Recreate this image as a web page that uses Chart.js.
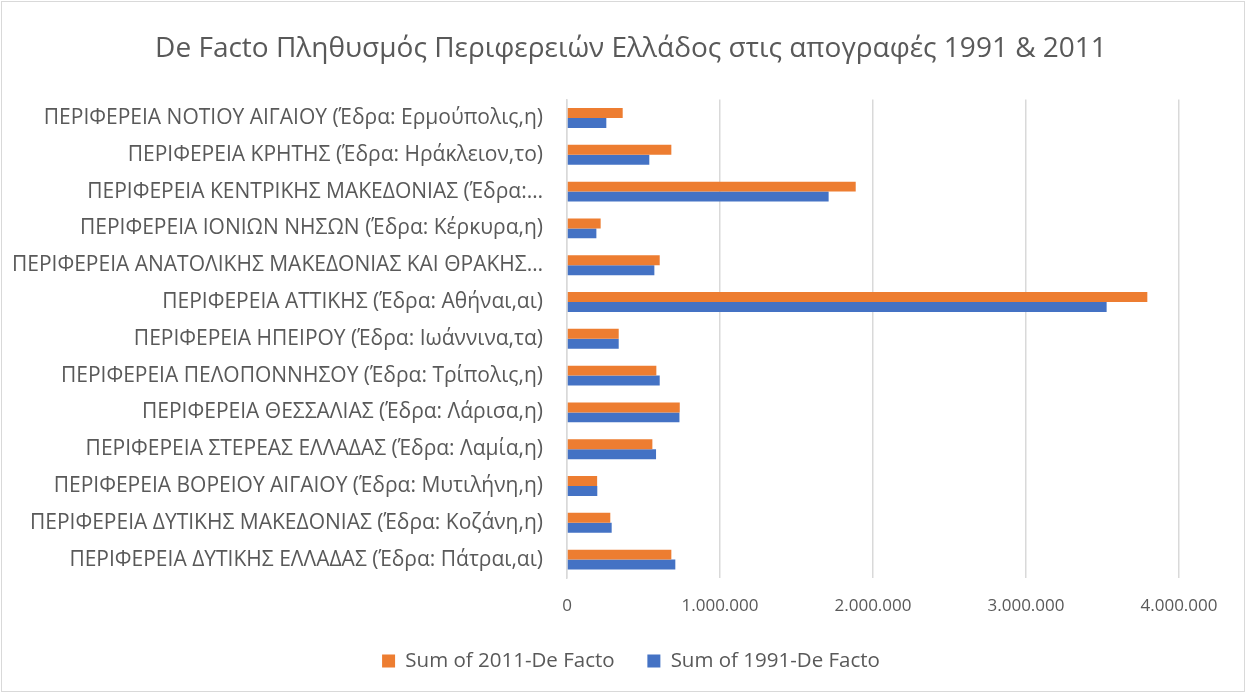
<!DOCTYPE html>
<html>
<head>
<meta charset="utf-8">
<script src="https://cdn.jsdelivr.net/npm/chart.js@4"></script>
<style>
  html, body { margin: 0; padding: 0; background: #fff; }
  #wrap { width: 1246px; height: 693px; position: relative; }
</style>
</head>
<body>
<div id="wrap"><canvas id="c" width="1246" height="693"></canvas></div>
<script>
const categories = [
  "ΠΕΡΙΦΕΡΕΙΑ ΝΟΤΙΟΥ ΑΙΓΑΙΟΥ (Έδρα: Ερμούπολις,η)",
  "ΠΕΡΙΦΕΡΕΙΑ ΚΡΗΤΗΣ (Έδρα: Ηράκλειον,το)",
  "ΠΕΡΙΦΕΡΕΙΑ ΚΕΝΤΡΙΚΗΣ ΜΑΚΕΔΟΝΙΑΣ (Έδρα:…",
  "ΠΕΡΙΦΕΡΕΙΑ ΙΟΝΙΩΝ ΝΗΣΩΝ (Έδρα: Κέρκυρα,η)",
  "ΠΕΡΙΦΕΡΕΙΑ ΑΝΑΤΟΛΙΚΗΣ ΜΑΚΕΔΟΝΙΑΣ ΚΑΙ ΘΡΑΚΗΣ…",
  "ΠΕΡΙΦΕΡΕΙΑ ΑΤΤΙΚΗΣ (Έδρα: Αθήναι,αι)",
  "ΠΕΡΙΦΕΡΕΙΑ ΗΠΕΙΡΟΥ (Έδρα: Ιωάννινα,τα)",
  "ΠΕΡΙΦΕΡΕΙΑ ΠΕΛΟΠΟΝΝΗΣΟΥ (Έδρα: Τρίπολις,η)",
  "ΠΕΡΙΦΕΡΕΙΑ ΘΕΣΣΑΛΙΑΣ (Έδρα: Λάρισα,η)",
  "ΠΕΡΙΦΕΡΕΙΑ ΣΤΕΡΕΑΣ ΕΛΛΑΔΑΣ (Έδρα: Λαμία,η)",
  "ΠΕΡΙΦΕΡΕΙΑ ΒΟΡΕΙΟΥ ΑΙΓΑΙΟΥ (Έδρα: Μυτιλήνη,η)",
  "ΠΕΡΙΦΕΡΕΙΑ ΔΥΤΙΚΗΣ ΜΑΚΕΔΟΝΙΑΣ (Έδρα: Κοζάνη,η)",
  "ΠΕΡΙΦΕΡΕΙΑ ΔΥΤΙΚΗΣ ΕΛΛΑΔΑΣ (Έδρα: Πάτραι,αι)"
];
const series2011 = [364000, 682000, 1887000, 220000, 606000, 3793000, 338000, 584000, 737000, 558000, 197000, 283000, 682000];
const series1991 = [257000, 538000, 1710000, 192000, 571000, 3527000, 338000, 606000, 735000, 582000, 198000, 292000, 708000];
const seriesNames = ["Sum of 2011-De Facto", "Sum of 1991-De Facto"];
const xTicks = [0, 1000000, 2000000, 3000000, 4000000];
const titleText = "De Facto Πληθυσμός Περιφερειών Ελλάδος στις απογραφές 1991 & 2011";

const FONT = "'Open Sans', 'Noto Sans', sans-serif";
const TXT = "#595959";

function fmt(v) {
  return String(Math.round(v)).replace(/\B(?=(\d{3})+(?!\d))/g, ".");
}

const borderPlugin = {
  id: 'outerBorder',
  beforeDraw(chart) {
    const ctx = chart.ctx;
    ctx.save();
    ctx.fillStyle = '#fff';
    ctx.fillRect(0, 0, chart.width, chart.height);
    ctx.strokeStyle = '#d9d9d9';
    ctx.lineWidth = 1;
    ctx.strokeRect(1.5, 1.5, chart.width - 3, chart.height - 3);
    ctx.restore();
  }
};

new Chart(document.getElementById('c'), {
  type: 'bar',
  data: {
    labels: categories,
    datasets: [
      { label: seriesNames[0], data: series2011, backgroundColor: '#ED7D31', borderWidth: 0 },
      { label: seriesNames[1], data: series1991, backgroundColor: '#4472C4', borderWidth: 0 }
    ]
  },
  plugins: [borderPlugin],
  options: {
    indexAxis: 'y',
    responsive: false,
    animation: false,
    devicePixelRatio: 1,
    layout: { padding: { left: 12, right: -4, top: 12, bottom: 11.75 } },
    datasets: { bar: { categoryPercentage: 0.54, barPercentage: 1.0 } },
    scales: {
      x: {
        min: 0, max: 4000000,
        afterBuildTicks(axis) { axis.ticks = xTicks.map(v => ({ value: v })); },
        afterFit(axis) { axis.height = 40; },
        grid: { color: '#d9d9d9', lineWidth: 1.5, drawTicks: false },
        border: { display: false },
        ticks: { color: TXT, font: { family: FONT, size: 17 }, padding: 17.5, callback: (v) => fmt(v), maxRotation: 0 }
      },
      y: {
        grid: { display: false, drawTicks: false },
        border: { display: true, color: '#d9d9d9', width: 1.5 },
        afterFit(axis) { axis.width = 555; },
        ticks: { color: TXT, font: { family: FONT, size: 21 }, padding: 24, autoSkip: false }
      },
      yPad: {
        type: 'category', position: 'right', labels: categories,
        grid: { display: false, drawTicks: false },
        border: { display: false },
        ticks: { display: false },
        afterFit(axis) { axis.width = 71; }
      }
    },
    plugins: {
      title: {
        display: true, text: titleText, color: TXT,
        font: { family: FONT, size: 28, weight: 'normal' },
        padding: { top: 20, bottom: 34 }
      },
      legend: {
        position: 'bottom',
        labels: { color: TXT, font: { family: FONT, size: 20.5 }, boxWidth: 13, boxHeight: 13, padding: 32.75 }
      },
      tooltip: { enabled: false }
    }
  }
});
</script>
</body>
</html>
